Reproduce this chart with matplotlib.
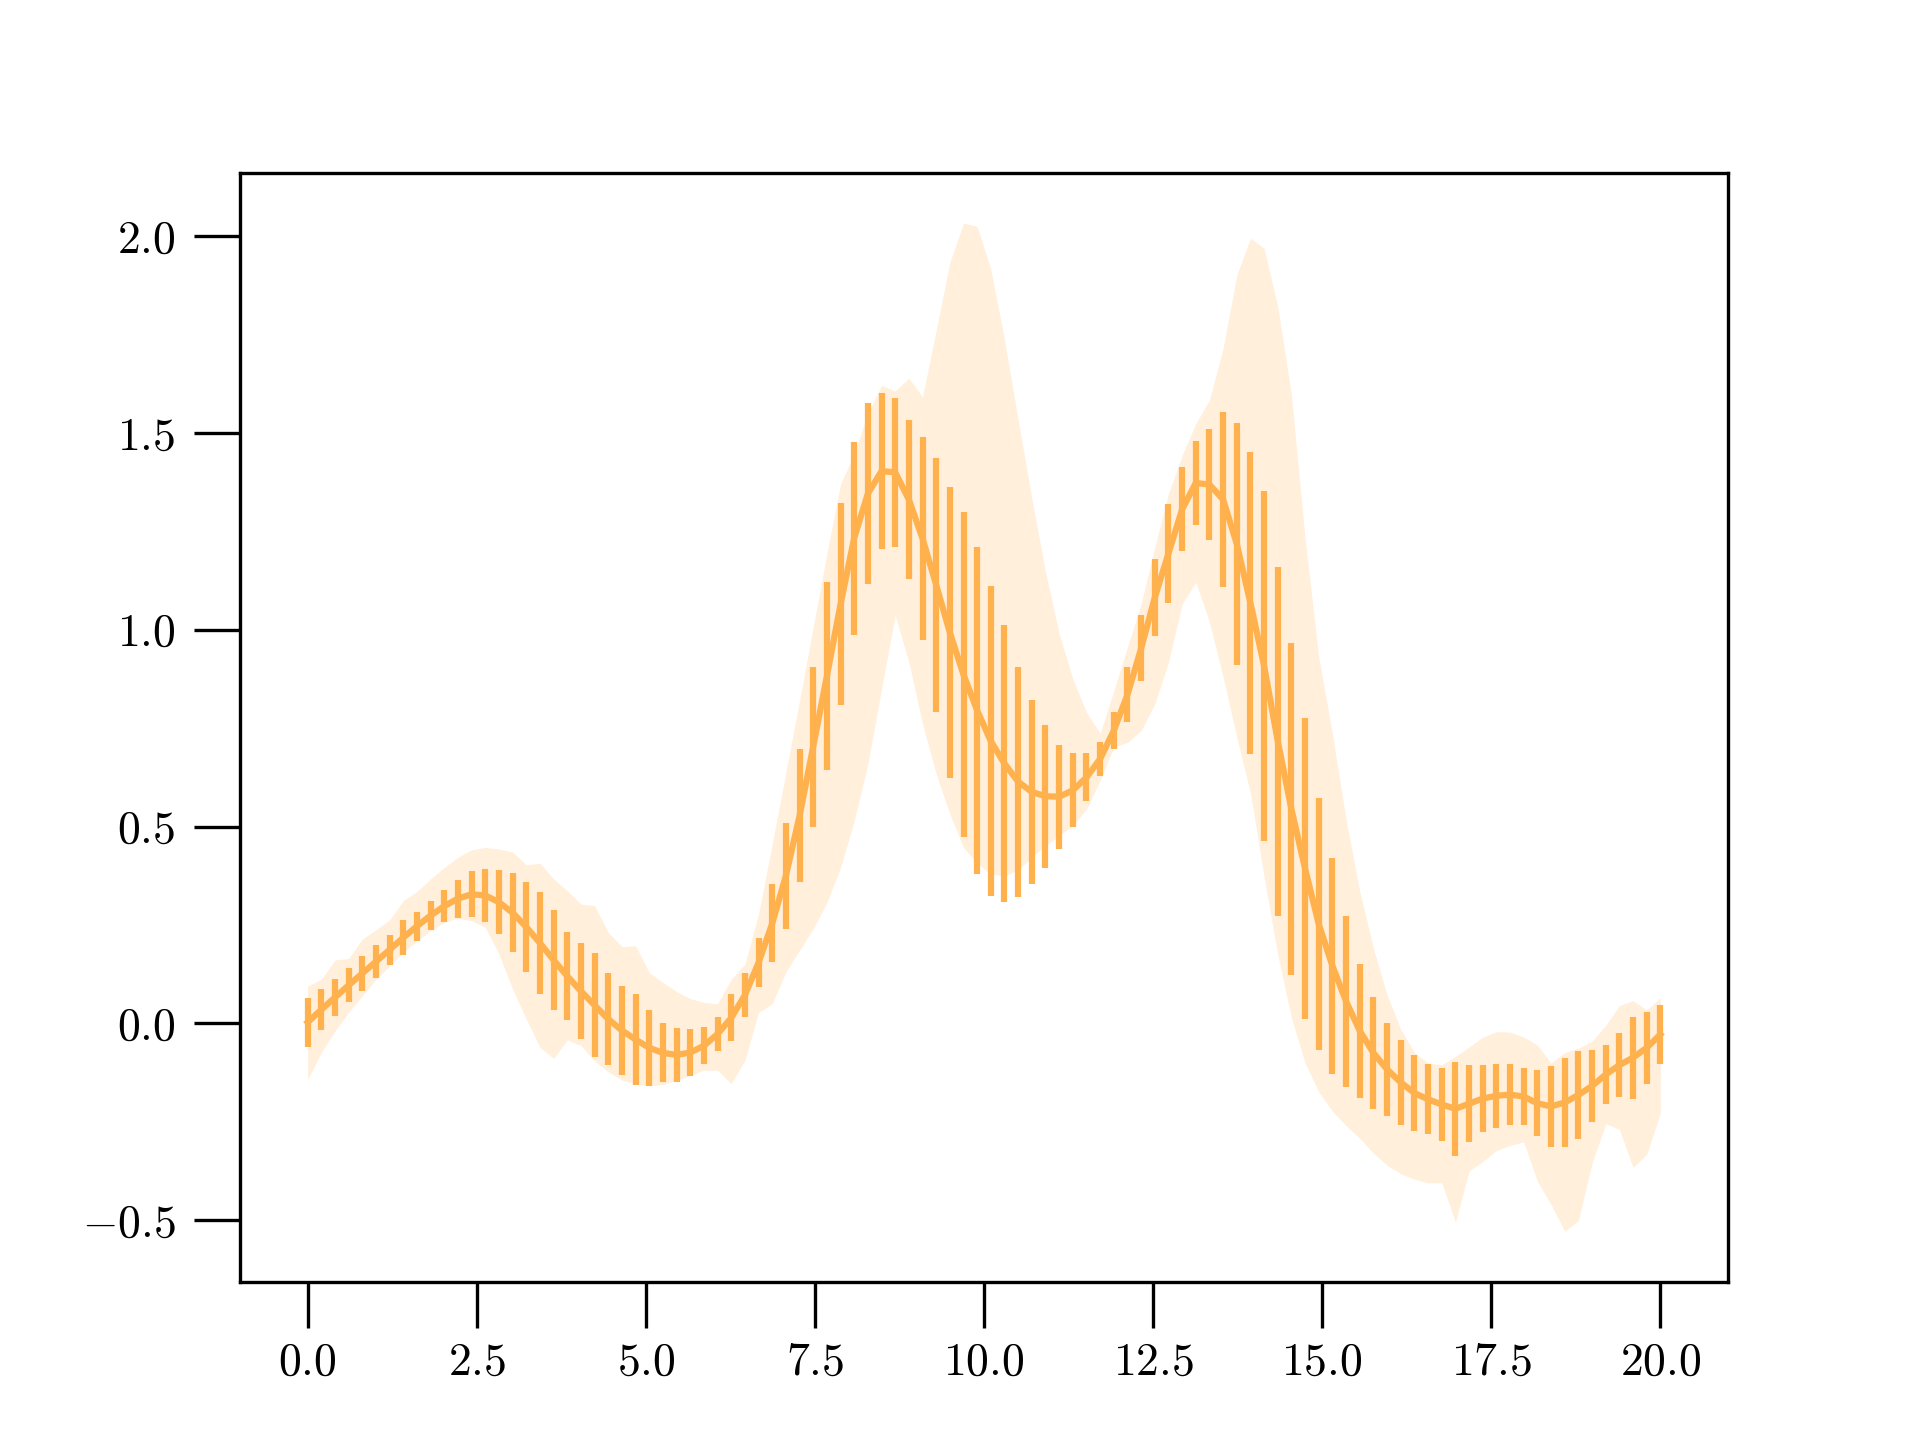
import numpy as np
import matplotlib
matplotlib.use("Agg")
import matplotlib.pyplot as plt

# ------------------------------------------------------------
# Data (100 samples from 0 to 20)
# ------------------------------------------------------------
X_START = 0.0
X_STOP = 20.0
N_POINTS = 100

MEAN = [
    0.003, 0.035, 0.066, 0.097, 0.127, 0.157, 0.187, 0.218, 0.247, 0.274,
    0.298, 0.317, 0.328, 0.325, 0.308, 0.281, 0.245, 0.204, 0.161, 0.120,
    0.082, 0.046, 0.011, -0.018, -0.041, -0.062, -0.075, -0.080, -0.074, -0.057,
    -0.027, 0.014, 0.072, 0.154, 0.254, 0.375, 0.527, 0.703, 0.882, 1.065,
    1.233, 1.346, 1.403, 1.400, 1.331, 1.232, 1.114, 0.993, 0.886, 0.795,
    0.717, 0.660, 0.614, 0.588, 0.577, 0.576, 0.592, 0.625, 0.672, 0.744,
    0.835, 0.953, 1.082, 1.194, 1.306, 1.373, 1.369, 1.331, 1.218, 1.068,
    0.908, 0.717, 0.544, 0.393, 0.252, 0.146, 0.056, -0.019, -0.075, -0.117,
    -0.150, -0.177, -0.193, -0.206, -0.217, -0.204, -0.191, -0.184, -0.181, -0.186,
    -0.203, -0.211, -0.201, -0.182, -0.159, -0.130, -0.106, -0.087, -0.062, -0.028,
]

ERR = [
    0.062, 0.052, 0.048, 0.043, 0.045, 0.042, 0.038, 0.044, 0.037, 0.036,
    0.041, 0.048, 0.058, 0.067, 0.081, 0.100, 0.114, 0.129, 0.128, 0.112,
    0.121, 0.132, 0.116, 0.113, 0.116, 0.097, 0.075, 0.069, 0.059, 0.047,
    0.043, 0.060, 0.057, 0.062, 0.099, 0.134, 0.169, 0.203, 0.239, 0.257,
    0.245, 0.229, 0.198, 0.190, 0.203, 0.259, 0.322, 0.370, 0.413, 0.415,
    0.393, 0.351, 0.292, 0.234, 0.182, 0.132, 0.094, 0.061, 0.043, 0.047,
    0.070, 0.084, 0.099, 0.126, 0.107, 0.106, 0.141, 0.223, 0.308, 0.384,
    0.445, 0.443, 0.422, 0.382, 0.320, 0.275, 0.218, 0.171, 0.142, 0.118,
    0.108, 0.097, 0.089, 0.092, 0.120, 0.098, 0.085, 0.081, 0.077, 0.073,
    0.084, 0.103, 0.114, 0.111, 0.092, 0.075, 0.081, 0.104, 0.092, 0.074,
]

BAND_LO = [
    -0.142, -0.074, -0.019, 0.028, 0.070, 0.112, 0.146, 0.180, 0.210, 0.235,
    0.257, 0.267, 0.261, 0.244, 0.176, 0.087, 0.011, -0.061, -0.089, -0.042,
    -0.056, -0.095, -0.123, -0.144, -0.153, -0.159, -0.155, -0.145, -0.132, -0.119,
    -0.119, -0.153, -0.094, 0.028, 0.050, 0.131, 0.186, 0.240, 0.307, 0.396,
    0.515, 0.659, 0.850, 1.037, 0.918, 0.761, 0.634, 0.532, 0.447, 0.407,
    0.379, 0.375, 0.390, 0.422, 0.452, 0.477, 0.502, 0.545, 0.617, 0.702,
    0.714, 0.744, 0.812, 0.918, 1.066, 1.121, 1.019, 0.880, 0.727, 0.585,
    0.372, 0.174, 0.014, -0.101, -0.174, -0.223, -0.260, -0.292, -0.330, -0.360,
    -0.382, -0.396, -0.405, -0.405, -0.505, -0.375, -0.351, -0.323, -0.310, -0.301,
    -0.401, -0.460, -0.528, -0.501, -0.355, -0.255, -0.269, -0.366, -0.333, -0.228,
]

BAND_HI = [
    0.095, 0.112, 0.161, 0.165, 0.214, 0.238, 0.263, 0.312, 0.335, 0.367,
    0.396, 0.422, 0.441, 0.447, 0.443, 0.435, 0.403, 0.407, 0.367, 0.337,
    0.303, 0.299, 0.231, 0.195, 0.197, 0.129, 0.104, 0.081, 0.063, 0.053,
    0.050, 0.112, 0.151, 0.278, 0.456, 0.638, 0.820, 1.007, 1.193, 1.370,
    1.448, 1.550, 1.621, 1.607, 1.639, 1.592, 1.761, 1.933, 2.033, 2.025,
    1.916, 1.736, 1.533, 1.333, 1.147, 0.990, 0.875, 0.790, 0.737, 0.845,
    0.956, 1.066, 1.210, 1.346, 1.443, 1.524, 1.584, 1.715, 1.901, 1.995,
    1.969, 1.821, 1.596, 1.232, 0.930, 0.735, 0.517, 0.335, 0.190, 0.072,
    -0.015, -0.074, -0.101, -0.105, -0.084, -0.060, -0.035, -0.021, -0.022, -0.035,
    -0.055, -0.101, -0.074, -0.063, -0.045, -0.005, 0.045, 0.058, 0.034, 0.065,
]

COLOR = "#FFB14E"

# ------------------------------------------------------------
# Style: Computer Modern look, long outward ticks
# ------------------------------------------------------------
plt.rcParams["font.family"] = "serif"
plt.rcParams["font.serif"] = ["cmr10", "DejaVu Serif"]
plt.rcParams["mathtext.fontset"] = "cm"
plt.rcParams["axes.formatter.use_mathtext"] = True
plt.rcParams["font.size"] = 11

x = np.linspace(X_START, X_STOP, N_POINTS)

fig, ax = plt.subplots(figsize=(6.4, 4.8), dpi=300)

# shaded band behind, mean with symmetric error bars on top
ax.fill_between(x, BAND_LO, BAND_HI, color=COLOR, alpha=0.2, linewidth=0, zorder=1)
ax.errorbar(x, MEAN, yerr=ERR, fmt="-", color=COLOR, linewidth=1.5,
            elinewidth=1.5, capsize=0, zorder=2)

ax.tick_params(axis="both", which="major", direction="out", length=11,
               width=0.8, labelsize=11, top=False, right=False)
ax.tick_params(axis="y", pad=4.5)
ax.set_xticks([0.0, 2.5, 5.0, 7.5, 10.0, 12.5, 15.0, 17.5, 20.0])
ax.set_yticks([-0.5, 0.0, 0.5, 1.0, 1.5, 2.0])
for spine in ax.spines.values():
    spine.set_linewidth(0.8)

fig.savefig("out.png", dpi=300)
